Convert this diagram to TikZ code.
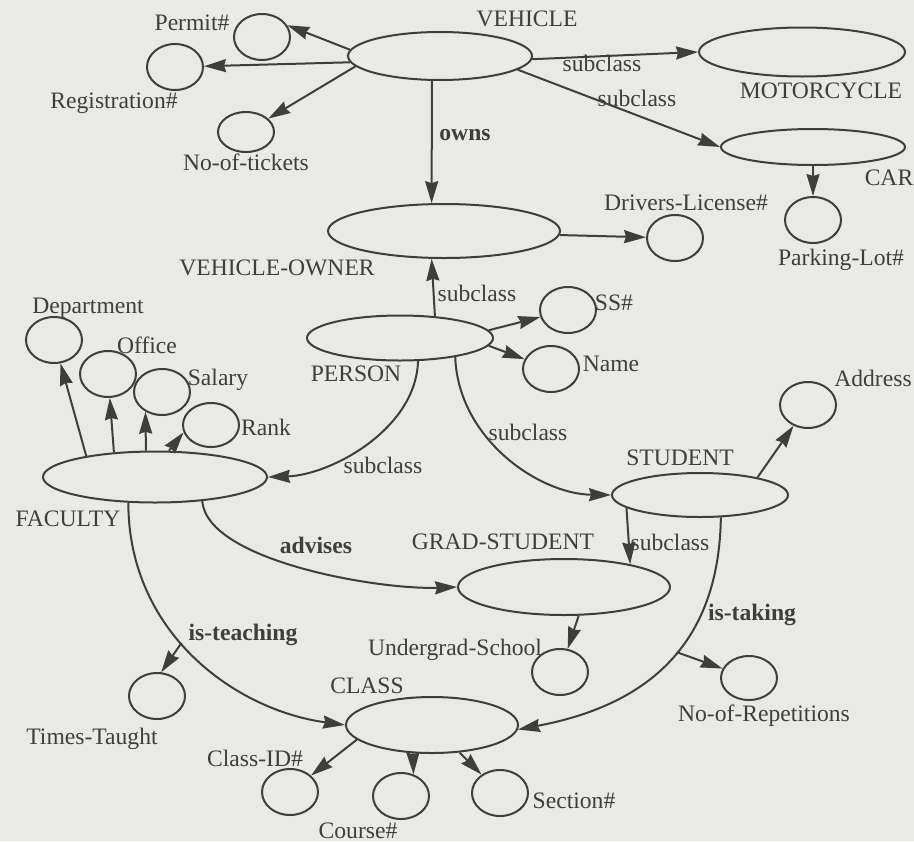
\documentclass[tikz,border=0pt]{standalone}
\usepackage{fontspec}
\setmainfont{Liberation Serif}
\usetikzlibrary{arrows.meta,shapes.geometric}
\definecolor{paper}{RGB}{233,233,229}
\definecolor{ink}{RGB}{62,62,62}
\begin{document}
\begin{tikzpicture}[x=0.5pt,y=-0.5pt,
  ent/.style={ellipse,draw=ink,line width=1pt,inner sep=0pt},
  attr/.style={ent,minimum width=28pt,minimum height=23pt},
  lbl/.style={anchor=base,inner sep=0pt,text=ink,font=\fontsize{11.8}{14}\selectfont},
  rel/.style={lbl,font=\fontsize{11.8}{14}\selectfont\bfseries},
  arr/.style={draw=ink,line width=1pt,-{Stealth[length=11pt,width=6.5pt,inset=1pt]}}]
\fill[paper] (0,0) rectangle (914,841);
\useasboundingbox (0,0) rectangle (914,841);

% entity sets
\node[ent,minimum width=92pt,minimum height=24pt] (vehicle) at (440,56) {};
\node[ent,minimum width=103pt,minimum height=24.5pt] (motorcycle) at (802,52) {};
\node[ent,minimum width=92pt,minimum height=18pt] (car) at (813,147) {};
\node[ent,minimum width=116pt,minimum height=27pt] (owner) at (444,231) {};
\node[ent,minimum width=93pt,minimum height=22.5pt] (person) at (400,338) {};
\node[ent,minimum width=112pt,minimum height=25.5pt] (faculty) at (155,477) {};
\node[ent,minimum width=88pt,minimum height=22pt] (student) at (700,495) {};
\node[ent,minimum width=106pt,minimum height=28pt] (grad) at (564,587) {};
\node[ent,minimum width=86pt,minimum height=28pt] (class) at (432,725) {};

% attributes
\node[attr] (permit) at (262,37) {};
\node[attr] (registration) at (175,67) {};
\node[attr,minimum height=20pt] (tickets) at (246,132) {};
\node[attr] (parking) at (813,220) {};
\node[attr] (drivers) at (675,238) {};
\node[attr] (ss) at (568,310) {};
\node[attr] (name) at (551,369) {};
\node[attr] (address) at (808,405) {};
\node[attr] (department) at (54,340) {};
\node[attr] (office) at (108,374) {};
\node[attr] (salary) at (162,392) {};
\node[attr,minimum height=22pt] (rank) at (211,425) {};
\node[attr] (undergrad) at (560,672) {};
\node[attr] (timestaught) at (157,696) {};
\node[attr,minimum height=22pt] (repetitions) at (749,678) {};
\node[attr] (classid) at (290,792) {};
\node[attr] (course) at (401,796) {};
\node[attr] (section) at (500,793) {};

% names
\node[lbl] (tVehicle) at (527,26) {VEHICLE};
\node[lbl] (tPermit) at (192,30) {Permit\#};
\node[lbl] (tRegistration) at (114,108) {Registration\#};
\node[lbl] (tTickets) at (246,170) {No-of-tickets};
\node[lbl] (tMotorcycle) at (821,98) {MOTORCYCLE};
\node[lbl] (tCar) at (889,185) {CAR};
\node[lbl] (tParking) at (841,265) {Parking-Lot\#};
\node[lbl] (tDrivers) at (686,210) {Drivers-License\#};
\node[lbl] (tOwner) at (277,275) {VEHICLE-OWNER};
\node[lbl] (tSub1) at (602,71) {subclass};
\node[lbl] (tSub2) at (637,106) {subclass};
\node[rel] (tOwns) at (465,140) {owns};
\node[lbl] (tSub3) at (477,301) {subclass};
\node[lbl] (tSS) at (614,310) {SS\#};
\node[lbl] (tName) at (611,371) {Name};
\node[lbl] (tPerson) at (356,381) {PERSON};
\node[lbl] (tDepartment) at (88,313) {Department};
\node[lbl] (tOffice) at (147,353) {Office};
\node[lbl] (tSalary) at (218,385) {Salary};
\node[lbl] (tRank) at (266,435) {Rank};
\node[lbl] (tAddress) at (873,386) {Address};
\node[lbl] (tSub4) at (528,440) {subclass};
\node[lbl] (tSub5) at (383,473) {subclass};
\node[lbl] (tStudent) at (680,465) {STUDENT};
\node[lbl] (tFaculty) at (68,526) {FACULTY};
\node[lbl] (tGrad) at (503,549) {GRAD-STUDENT};
\node[lbl] (tSub6) at (670,550) {subclass};
\node[rel] (tAdvises) at (316,553) {advises};
\node[rel] (tTaking) at (752,620) {is-taking};
\node[rel] (tTeaching) at (243,640) {is-teaching};
\node[lbl] (tUndergrad) at (455,655) {Undergrad-School};
\node[lbl] (tClass) at (367,693) {CLASS};
\node[lbl] (tRepetitions) at (764,721) {No-of-Repetitions};
\node[lbl] (tTaught) at (92,744) {Times-Taught};
\node[lbl] (tClassid) at (255,766) {Class-ID\#};
\node[lbl] (tSection) at (574,808) {Section\#};
\node[lbl] (tCourse) at (358,838) {Course\#};

% VEHICLE
\draw[arr] (vehicle.176) -- (permit.25);
\draw[arr] (vehicle.184) -- (registration);
\draw[arr] (vehicle.187) -- (tickets);
\draw[arr] (vehicle.-2) -- (motorcycle.west);
\draw[arr] (vehicle.-10.5) -- (car.west);
\draw[arr] (vehicle.-108.5) -- (owner.114);
\draw[arr] (car.south) -- (parking);
\draw[arr] (owner.-2) -- (drivers);

% PERSON
\draw[arr] (person.32.9) -- (owner.-114);
\draw[arr] (person.5) -- (ss);
\draw[arr] (person.-5) -- (name);
\draw[arr] (person.-52) .. controls +(-2,68) and +(63,-2) .. (faculty.east);
\draw[arr] (person.-19) .. controls +(3,82) and +(-72,-1) .. (student.west);

% FACULTY
\draw[arr] (faculty.163.7) -- (department);
\draw[arr] (faculty.149.7) -- (office);
\draw[arr] (faculty.109.9) -- (salary.-130);
\draw[arr] (faculty.62.3) -- (rank.195);
\draw[arr] (faculty.-27) .. controls +(5,60) and +(-78,3) .. (grad.west);
\draw[arr] (faculty.-136) .. controls +(0,130) and +(-110,-15) .. (class.west)
  coordinate[pos=0.44] (tt);
\draw[arr] (tt) -- (timestaught.80);

% STUDENT
\draw[arr] (student.17.4) -- (address);
\draw[arr] (student.-170) -- (grad.19.2);
\draw[arr] (student.-47) .. controls +(-2,138) and +(117,-22) .. (class.-3)
  coordinate[pos=0.43] (rep);
\draw[arr] (rep) -- (repetitions);
\draw[arr] (grad.-63.3) -- (undergrad);

% CLASS
\draw[arr] (class.-169) -- (classid);
\draw[arr] (class.-124.8) -- (course.60);
\draw[arr] (class.-45.8) -- (section);
\end{tikzpicture}
\end{document}
